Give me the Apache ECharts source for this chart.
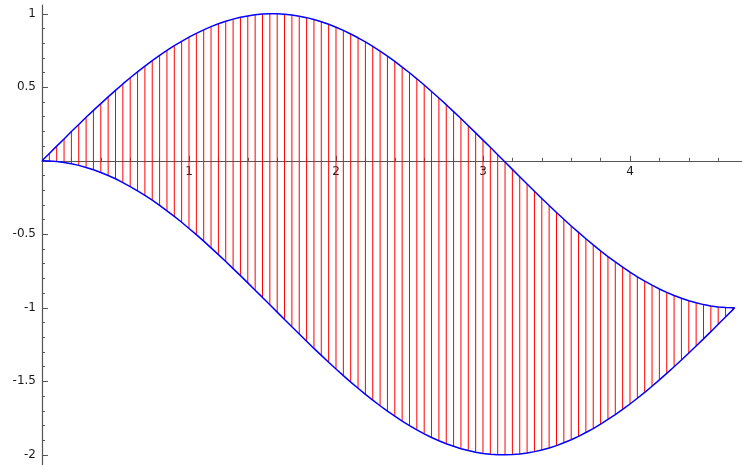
<!DOCTYPE html>
<html>
<head>
<meta charset="utf-8">
<script src="https://cdn.jsdelivr.net/npm/echarts@6/dist/echarts.min.js"></script>
<style>
  html, body { margin: 0; padding: 0; background: #ffffff; }
  #chart { width: 742px; height: 465px; }
</style>
</head>
<body>
<div id="chart"></div>
<script>
// Sample positions along x (step 0.05, closing at 3*pi/2)
const xs = [
  0, 0.05, 0.1, 0.15, 0.2, 0.25, 0.3, 0.35, 0.4, 0.45,
  0.5, 0.55, 0.6, 0.65, 0.7, 0.75, 0.8, 0.85, 0.9, 0.95,
  1.0, 1.05, 1.1, 1.15, 1.2, 1.25, 1.3, 1.35, 1.4, 1.45,
  1.5, 1.55, 1.6, 1.65, 1.7, 1.75, 1.8, 1.85, 1.9, 1.95,
  2.0, 2.05, 2.1, 2.15, 2.2, 2.25, 2.3, 2.35, 2.4, 2.45,
  2.5, 2.55, 2.6, 2.65, 2.7, 2.75, 2.8, 2.85, 2.9, 2.95,
  3.0, 3.05, 3.1, 3.15, 3.2, 3.25, 3.3, 3.35, 3.4, 3.45,
  3.5, 3.55, 3.6, 3.65, 3.7, 3.75, 3.8, 3.85, 3.9, 3.95,
  4.0, 4.05, 4.1, 4.15, 4.2, 4.25, 4.3, 4.35, 4.4, 4.45,
  4.5, 4.55, 4.6, 4.65, 4.7, 4.712
];

// Upper boundary curve
const upper = [
  0, 0.05, 0.1, 0.149, 0.199, 0.247, 0.296, 0.343, 0.389, 0.435,
  0.479, 0.523, 0.565, 0.605, 0.644, 0.682, 0.717, 0.751, 0.783, 0.813,
  0.841, 0.867, 0.891, 0.913, 0.932, 0.949, 0.964, 0.976, 0.985, 0.993,
  0.998, 1.0, 1.0, 0.997, 0.992, 0.984, 0.974, 0.961, 0.946, 0.929,
  0.909, 0.887, 0.863, 0.837, 0.809, 0.778, 0.746, 0.712, 0.676, 0.638,
  0.599, 0.558, 0.516, 0.472, 0.427, 0.382, 0.335, 0.288, 0.239, 0.19,
  0.141, 0.092, 0.042, -0.008, -0.058, -0.108, -0.158, -0.207, -0.256, -0.304,
  -0.351, -0.397, -0.443, -0.487, -0.53, -0.572, -0.612, -0.651, -0.688, -0.723,
  -0.757, -0.789, -0.818, -0.846, -0.872, -0.895, -0.916, -0.935, -0.952, -0.966,
  -0.978, -0.987, -0.994, -0.998, -1.0, -1.0
];

// Lower boundary curve
const lower = [
  0, -0.001, -0.005, -0.011, -0.02, -0.031, -0.045, -0.061, -0.079, -0.1,
  -0.122, -0.148, -0.175, -0.204, -0.235, -0.268, -0.303, -0.34, -0.378, -0.418,
  -0.46, -0.502, -0.546, -0.592, -0.638, -0.685, -0.733, -0.781, -0.83, -0.88,
  -0.929, -0.979, -1.029, -1.079, -1.129, -1.178, -1.227, -1.276, -1.323, -1.37,
  -1.416, -1.461, -1.505, -1.547, -1.589, -1.628, -1.666, -1.703, -1.737, -1.77,
  -1.801, -1.83, -1.857, -1.882, -1.904, -1.924, -1.942, -1.958, -1.971, -1.982,
  -1.99, -1.996, -1.999, -2.0, -1.998, -1.994, -1.988, -1.978, -1.967, -1.953,
  -1.937, -1.918, -1.897, -1.874, -1.848, -1.821, -1.791, -1.759, -1.726, -1.691,
  -1.654, -1.615, -1.575, -1.533, -1.49, -1.446, -1.401, -1.355, -1.307, -1.259,
  -1.211, -1.162, -1.112, -1.062, -1.012, -1.0
];

// Tick values
const xMajorTicks = [1, 2, 3, 4];
const yMajorTicks = [-2, -1.5, -1, -0.5, 0.5, 1];
const xMinorTicks = [];
for (let i = 0; i <= 23; i++) xMinorTicks.push(+(i * 0.2).toFixed(1));
const yMinorTicks = [];
for (let i = -20; i <= 10; i++) yMinorTicks.push(+(i * 0.1).toFixed(1));

const upperPts = xs.map((x, i) => [x, upper[i]]);
const lowerPts = xs.map((x, i) => [x, lower[i]]);
// Vertical hatch segments (every sample except the closing point)
const hatch = xs.slice(0, xs.length - 1).map((x, i) => [x, lower[i], upper[i]]);

// Plot frame: y range and grid geometry, used to put the x axis through y = 0
const Y_MIN = -2.069, Y_MAX = 1.06;
const GRID_TOP = 5, GRID_H = 460;
const zeroFromBottom = GRID_H * (0 - Y_MIN) / (Y_MAX - Y_MIN);

const axisGray = '#555555';
const labelStyle = { color: '#1a1a1a', fontFamily: 'DejaVu Sans', fontSize: 12 };

const chart = echarts.init(document.getElementById('chart'), null, { renderer: 'canvas' });
chart.setOption({
  animation: false,
  backgroundColor: '#ffffff',
  grid: { left: 42, right: 0, top: GRID_TOP, height: GRID_H, containLabel: false, outerBoundsMode: 'none' },
  xAxis: [
    {
      type: 'value', min: 0, max: 4.762, position: 'bottom', offset: -zeroFromBottom,
      axisLine: { show: true, onZero: false, lineStyle: { color: axisGray, width: 1.2 } },
      axisTick: { show: true, inside: true, length: 5, customValues: xMajorTicks, lineStyle: { color: axisGray, width: 1 } },
      axisLabel: { show: true, margin: 5, customValues: xMajorTicks, ...labelStyle },
      splitLine: { show: false }
    },
    {
      type: 'value', min: 0, max: 4.762, position: 'bottom', offset: -zeroFromBottom,
      axisLine: { show: false, onZero: false },
      axisTick: { show: true, inside: true, length: 3, customValues: xMinorTicks, lineStyle: { color: axisGray, width: 1 } },
      axisLabel: { show: false },
      splitLine: { show: false }
    }
  ],
  yAxis: [
    {
      type: 'value', min: Y_MIN, max: Y_MAX, position: 'left',
      axisLine: { show: true, onZero: false, lineStyle: { color: axisGray, width: 1.2 } },
      axisTick: { show: true, inside: true, length: 6, customValues: yMajorTicks, lineStyle: { color: axisGray, width: 1 } },
      axisLabel: { show: true, margin: 6, customValues: yMajorTicks, ...labelStyle },
      splitLine: { show: false }
    },
    {
      type: 'value', min: Y_MIN, max: Y_MAX, position: 'left',
      axisLine: { show: false, onZero: false },
      axisTick: { show: true, inside: true, length: 3, customValues: yMinorTicks, lineStyle: { color: axisGray, width: 1 } },
      axisLabel: { show: false },
      splitLine: { show: false }
    }
  ],
  series: [
    {
      type: 'custom',
      xAxisIndex: 0, yAxisIndex: 0,
      data: hatch,
      encode: { x: 0, y: [1, 2] },
      silent: true,
      z: 2,
      renderItem: (params, api) => {
        const top = api.coord([api.value(0), api.value(2)]);
        const bottom = api.coord([api.value(0), api.value(1)]);
        return {
          type: 'line',
          shape: { x1: top[0], y1: top[1], x2: bottom[0], y2: bottom[1] },
          style: { stroke: '#ff0000', lineWidth: 1 }
        };
      }
    },
    {
      type: 'line', xAxisIndex: 0, yAxisIndex: 0,
      data: upperPts, showSymbol: false, silent: true, z: 3,
      lineStyle: { color: '#0000ff', width: 1.5 }
    },
    {
      type: 'line', xAxisIndex: 0, yAxisIndex: 0,
      data: lowerPts, showSymbol: false, silent: true, z: 3,
      lineStyle: { color: '#0000ff', width: 1.5 }
    }
  ]
});
</script>
</body>
</html>
